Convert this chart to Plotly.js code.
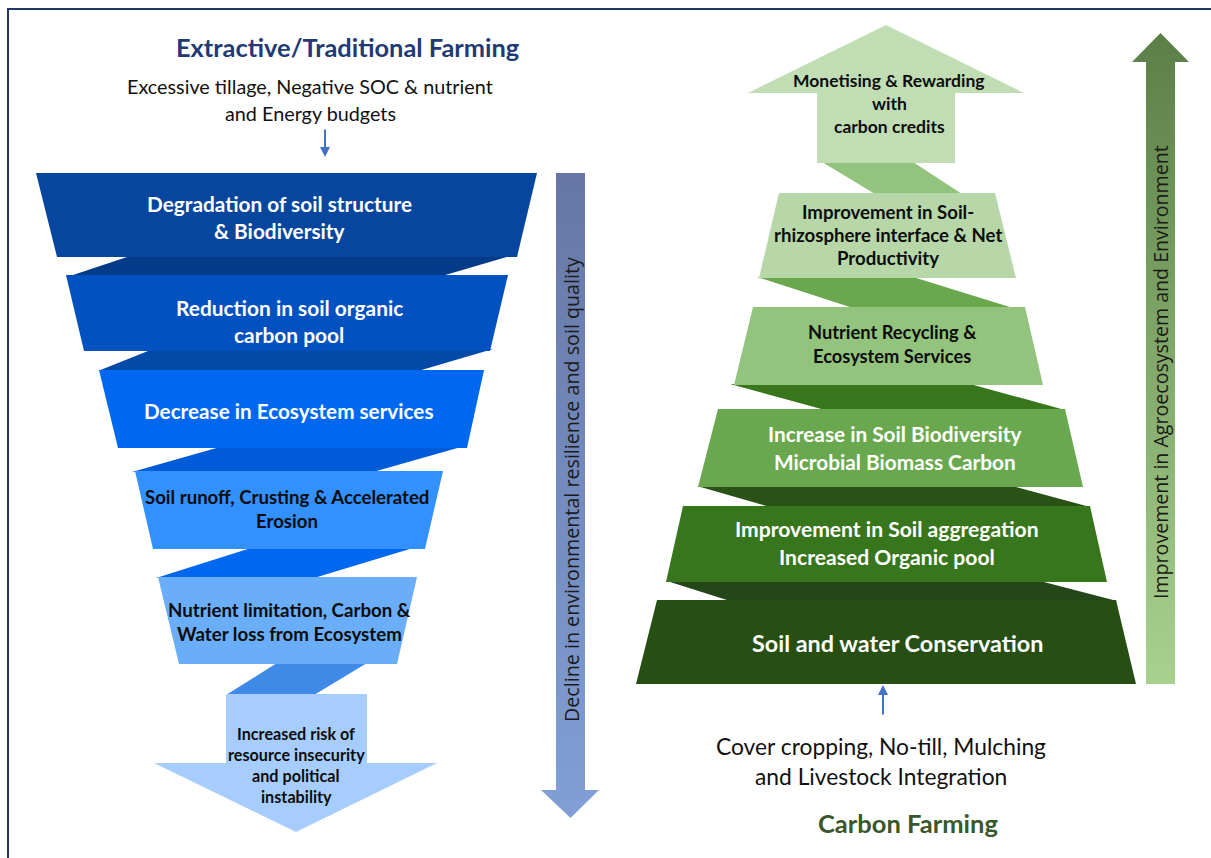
<!DOCTYPE html>
<html>
<head>
<meta charset="utf-8">
<script src="https://cdn.plot.ly/plotly-3.0.1.min.js"></script>
<style>html,body{margin:0;padding:0;background:#fff;}#chart{width:1211px;height:858px;}</style>
</head>
<body>
<div id="chart"></div>
<script>
// ---------------- DATA (text content) ----------------
const leftTitle = ["Extractive/Traditional Farming"];
const leftDriver = ["Excessive tillage, Negative SOC & nutrient", "and Energy budgets"];
const leftStages = [
  ["Degradation of soil structure", "& Biodiversity"],
  ["Reduction in soil organic", "carbon pool"],
  ["Decrease in Ecosystem services"],
  ["Soil runoff, Crusting & Accelerated", "Erosion"],
  ["Nutrient limitation, Carbon &", "Water loss from Ecosystem"],
  ["Increased risk of", "resource insecurity", "and political", "instability"]
];
const leftAxisLabel = ["Decline in environmental resilience and soil quality"];

const rightTitle = ["Carbon Farming"];
const rightDriver = ["Cover cropping, No-till, Mulching", "and Livestock Integration"];
const rightStages = [
  ["Monetising & Rewarding", "with", "carbon credits"],
  ["Improvement in Soil-", "rhizosphere interface & Net", "Productivity"],
  ["Nutrient Recycling &", "Ecosystem Services"],
  ["Increase in Soil Biodiversity", "Microbial Biomass Carbon"],
  ["Improvement in Soil aggregation", "Increased Organic pool"],
  ["Soil and water Conservation"]
];
const rightAxisLabel = ["Improvement in Agroecosystem and Environment"];

// ---------------- GEOMETRY (diagram layout, in pixel-like axis units) ----------------
// trapezoid / link: [yTop, yBottom, xTopLeft, xTopRight, xBottomLeft, xBottomRight]
const leftBlockGeom = [
  [173, 257, 36, 537, 57, 517],
  [275, 351, 66, 508, 84, 490],
  [370, 448, 99, 484, 118, 467],
  [471, 549, 135, 443, 153, 425],
  [577, 664, 158, 417, 179, 397]
];
const leftLinkGeom = [
  [256, 276, 130, 510, 70, 442],
  [349, 371, 153, 493, 98, 418],
  [445, 472, 227, 468, 132, 373],
  [548, 578, 251, 413, 156, 314],
  [663, 695, 277, 367, 226, 314]
];
const leftArrowGeom = {bodyL: 226, bodyR: 367, top: 694, headY: 763, headL: 154, headR: 437, tipX: 296, tipY: 832};

const rightArrowGeom = {bodyL: 817, bodyR: 955, bottom: 163, headY: 93, headL: 748, headR: 1024, tipX: 886, tipY: 25};
const rightBlockGeom = [
  [193, 278, 779, 995, 759, 1016],
  [307, 385, 753, 1025, 734, 1043],
  [409, 487, 718, 1065, 698, 1083],
  [506, 582, 683, 1090, 666, 1107],
  [600, 684, 657, 1116, 636, 1136]
];
const rightLinkGeom = [
  [162, 194, 822, 913, 875, 962],
  [277, 308, 757, 913, 853, 1013],
  [384, 410, 730, 970, 825, 1065],
  [486, 507, 697, 1012, 770, 1090],
  [581, 601, 667, 1040, 730, 1117]
];
const leftBarGeom = {l: 556, r: 585, top: 173, headY: 790, headL: 541, headR: 599, tipY: 818};
const rightBarGeom = {l: 1146, r: 1175, bottom: 684, headY: 62, headL: 1132, headR: 1189, tipY: 33};

// ---------------- STYLES ----------------
const leftBlockColors = ['#07469E', '#0251C0', '#0068F0', '#3390FF', '#6AADF8'];
const leftLinkColors = ['#033B88', '#0349A8', '#005BD8', '#0068F0', '#3F8AE6'];
const leftArrowColor = '#A6CDFD';
const rightArrowColor = '#C1DDB4';
const rightBlockColors = ['#B7D7A8', '#93C47D', '#6AA84F', '#38761D', '#274E13'];
const rightLinkColors = ['#93C47D', '#6AA84F', '#38761D', '#2A5216', '#24471A'];

const CAL = 'Lato, "Noto Sans", sans-serif';
const SEG = '"Open Sans", "Noto Sans", sans-serif';

// ---------------- BUILD ----------------
const traces = [];
function poly(xs, ys, color, grad) {
  const t = {
    type: 'scatter', mode: 'lines', x: xs.concat([xs[0]]), y: ys.concat([ys[0]]),
    fill: 'toself', fillcolor: color, line: {width: 0, color: color}, hoverinfo: 'skip', showlegend: false
  };
  if (grad) t.fillgradient = grad;
  traces.push(t);
}
function quad(g, color) {
  const [yt, yb, tl, tr, bl, br] = g;
  poly([tl, tr, br, bl], [yt, yt, yb, yb], color);
}

// links first, then blocks on top
leftLinkGeom.forEach((g, i) => quad(g, leftLinkColors[i]));
rightLinkGeom.forEach((g, i) => quad(g, rightLinkColors[i]));
leftBlockGeom.forEach((g, i) => quad(g, leftBlockColors[i]));
rightBlockGeom.forEach((g, i) => quad(g, rightBlockColors[i]));

// left bottom arrow
(function () {
  const a = leftArrowGeom;
  poly([a.bodyL, a.bodyR, a.bodyR, a.headR, a.tipX, a.headL, a.bodyL],
       [a.top, a.top, a.headY, a.headY, a.tipY, a.headY, a.headY], leftArrowColor);
})();
// right top arrow
(function () {
  const a = rightArrowGeom;
  poly([a.tipX, a.headR, a.bodyR, a.bodyR, a.bodyL, a.bodyL, a.headL],
       [a.tipY, a.headY, a.headY, a.bottom, a.bottom, a.headY, a.headY], rightArrowColor);
})();
// left vertical bar arrow (down): dark at top, lighter at bottom
(function () {
  const a = leftBarGeom, cx = (a.l + a.r) / 2;
  poly([a.l, a.r, a.r, a.headR, cx, a.headL, a.l],
       [a.top, a.top, a.headY, a.headY, a.tipY, a.headY, a.headY], '#7488B8',
       {type: 'vertical', colorscale: [[0, '#819FD6'], [1, '#6677A5']]});
})();
// right vertical bar arrow (up): dark at top, light at bottom
(function () {
  const a = rightBarGeom, cx = (a.l + a.r) / 2;
  poly([cx, a.headR, a.r, a.r, a.l, a.l, a.headL],
       [a.tipY, a.headY, a.headY, a.bottom, a.bottom, a.headY, a.headY], '#80A86A',
       {type: 'vertical', colorscale: [[0, '#A9D18E'], [1, '#5B7F47']]});
})();

// ---------------- TEXT ----------------
const canvas = document.createElement('canvas');
const ctx = canvas.getContext('2d');
function fitSize(lines, family, weight, targetW) {
  ctx.font = weight + ' 100px ' + family;
  let w = 0;
  lines.forEach(l => { w = Math.max(w, ctx.measureText(l).width); });
  return Math.round(100 * targetW / w * 10) / 10;
}

const textBlocks = [
  {lines: leftTitle, cx: 347, ys: [47], w: 344, bold: true, color: '#1F3A75', fam: CAL},
  {lines: leftDriver, cx: 310, ys: [86, 113], w: 366, bold: false, color: '#111111', fam: CAL},
  {lines: leftStages[0], cx: 279, ys: [203, 230], w: 266, bold: true, color: '#FFFFFF', fam: CAL},
  {lines: leftStages[1], cx: 289, ys: [307, 334], w: 227, bold: true, color: '#FFFFFF', fam: CAL},
  {lines: leftStages[2], cx: 288, ys: [411], w: 290, bold: true, color: '#FFFFFF', fam: CAL},
  {lines: leftStages[3], cx: 287, ys: [497, 521], w: 285, bold: true, color: '#0D0D0D', fam: CAL},
  {lines: leftStages[4], cx: 289, ys: [610, 634], w: 242, bold: true, color: '#0D0D0D', fam: CAL},
  {lines: leftStages[5], cx: 296, ys: [733, 754, 775, 796], w: 137, bold: true, color: '#0D0D0D', fam: CAL},
  {lines: rightStages[0], cx: 889, ys: [80, 103, 126], w: 192, bold: true, color: '#0D0D0D', fam: CAL},
  {lines: rightStages[1], cx: 888, ys: [212, 235, 258], w: 229, bold: true, color: '#0D0D0D', fam: CAL},
  {lines: rightStages[2], cx: 892, ys: [332, 356], w: 169, bold: true, color: '#0D0D0D', fam: CAL},
  {lines: rightStages[3], cx: 895, ys: [433, 461], w: 254, bold: true, color: '#FFFFFF', fam: CAL},
  {lines: rightStages[4], cx: 887, ys: [528, 556], w: 304, bold: true, color: '#FFFFFF', fam: CAL},
  {lines: rightStages[5], cx: 897, ys: [643], w: 292, bold: true, color: '#FFFFFF', fam: CAL},
  {lines: rightDriver, cx: 881, ys: [746, 776], w: 330, bold: false, color: '#111111', fam: CAL},
  {lines: rightTitle, cx: 908, ys: [823], w: 180, bold: true, color: '#38572A', fam: CAL}
];

const annotations = [];
textBlocks.forEach(b => {
  const size = fitSize(b.lines, b.fam, b.bold ? 'bold' : 'normal', b.w);
  b.lines.forEach((l, i) => {
    annotations.push({
      xref: 'x', yref: 'y', x: b.cx, y: b.ys[i], text: l, showarrow: false,
      xanchor: 'center', yanchor: 'middle',
      font: {family: b.fam, size: size, color: b.color, weight: b.bold ? 700 : 400}
    });
  });
});
// rotated labels
[
  {lines: leftAxisLabel, cx: 571, cy: 490, w: 464},
  {lines: rightAxisLabel, cx: 1160, cy: 372, w: 453}
].forEach(b => {
  const size = fitSize(b.lines, SEG, 'normal', b.w);
  annotations.push({
    xref: 'x', yref: 'y', x: b.cx, y: b.cy, text: b.lines[0], showarrow: false, textangle: -90,
    xanchor: 'center', yanchor: 'middle', font: {family: SEG, size: size, color: '#1A1A1A'}
  });
});
// small blue arrows
annotations.push({xref: 'x', yref: 'y', axref: 'x', ayref: 'y', x: 325, y: 157, ax: 325, ay: 128,
  text: '', showarrow: true, arrowhead: 2, arrowsize: 1, arrowwidth: 2, arrowcolor: '#4472C4', standoff: 0});
annotations.push({xref: 'x', yref: 'y', axref: 'x', ayref: 'y', x: 883, y: 685, ax: 883, ay: 716,
  text: '', showarrow: true, arrowhead: 2, arrowsize: 1, arrowwidth: 2, arrowcolor: '#4472C4', standoff: 0});

const shapes = [
  {type: 'line', xref: 'x', yref: 'y', x0: 7, y0: 9, x1: 1211, y1: 9, line: {color: '#203864', width: 2}},
  {type: 'line', xref: 'x', yref: 'y', x0: 8, y0: 9, x1: 8, y1: 858, line: {color: '#203864', width: 2}}
];

const layout = {
  width: 1211, height: 858,
  margin: {l: 0, r: 0, t: 0, b: 0, pad: 0},
  paper_bgcolor: '#FFFFFF', plot_bgcolor: '#FFFFFF',
  xaxis: {range: [0, 1211], visible: false, fixedrange: true},
  yaxis: {range: [858, 0], visible: false, fixedrange: true},
  showlegend: false,
  annotations: annotations,
  shapes: shapes
};

Plotly.newPlot('chart', traces, layout, {staticPlot: true, displayModeBar: false});
</script>
</body>
</html>
